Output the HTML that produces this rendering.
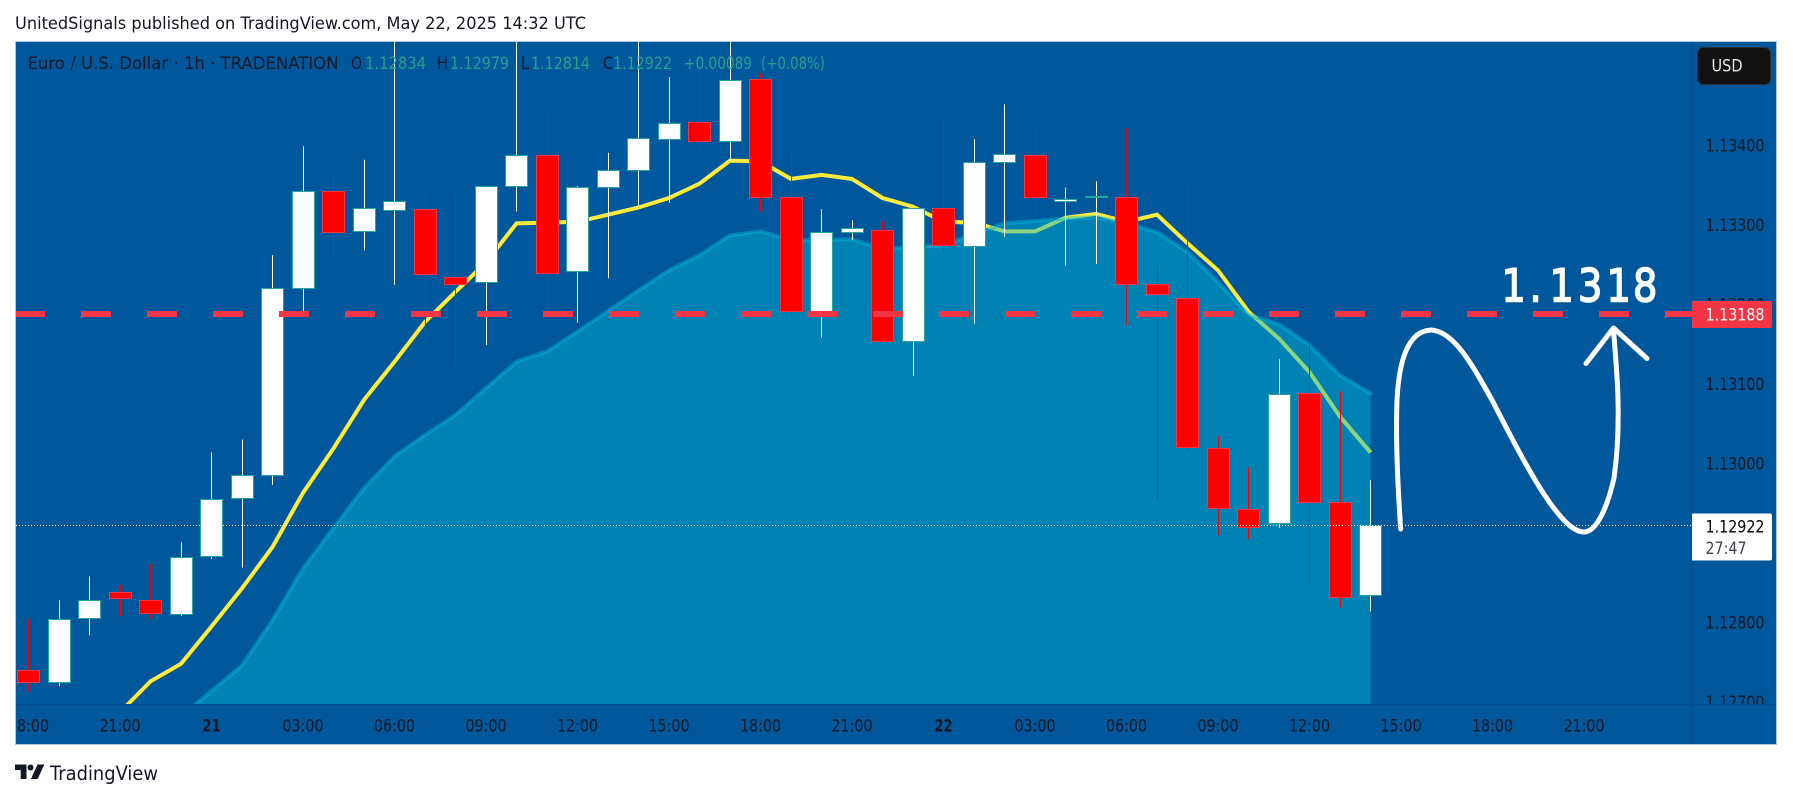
<!DOCTYPE html>
<html lang="en">
<head>
<meta charset="utf-8">
<title>EUR/USD 1h chart</title>
<style>
html,body{margin:0;padding:0;background:#fff;width:1793px;height:799px;overflow:hidden}
svg{display:block}
text{font-family:"DejaVu Sans","Liberation Sans",sans-serif}
</style>
</head>
<body>
<svg id="chart" xmlns="http://www.w3.org/2000/svg" width="1793" height="799" viewBox="0 0 1793 799">
  <defs>
    <clipPath id="plot-clip"><rect x="16" y="42" width="1676" height="662"/></clipPath>
    <clipPath id="axis-clip"><rect x="1693" y="42" width="83" height="662"/></clipPath>
    <clipPath id="time-clip"><rect x="16" y="705" width="1676" height="39"/></clipPath>
  </defs>
  <text x="15" y="29" font-size="16.5" fill="#131722" textLength="571" lengthAdjust="spacingAndGlyphs">UnitedSignals published on TradingView.com, May 22, 2025 14:32 UTC</text>
  <rect x="15.5" y="41.5" width="1761" height="703" fill="#00579c" stroke="#b4c6da" stroke-width="1"/>
  <line x1="1692.5" y1="42" x2="1692.5" y2="744" stroke="#054e8c" stroke-width="1"/>
  <line x1="16" y1="704.5" x2="1776" y2="704.5" stroke="#054e8c" stroke-width="1"/>
  <g id="plot" clip-path="url(#plot-clip)"></g>
  <g id="price-axis" clip-path="url(#axis-clip)"></g>
  <g id="time-axis" clip-path="url(#time-clip)"></g>

  <g font-size="16.5">
    <text x="27.5" y="69" fill="#131722" textLength="311" lengthAdjust="spacingAndGlyphs">Euro / U.S. Dollar · 1h · TRADENATION</text>
    <text x="351" y="69" fill="#131722" textLength="11" lengthAdjust="spacingAndGlyphs">O</text>
    <text x="365" y="69" fill="#26a08f" textLength="61" lengthAdjust="spacingAndGlyphs">1.12834</text>
    <text x="437" y="69" fill="#131722" textLength="11" lengthAdjust="spacingAndGlyphs">H</text>
    <text x="450" y="69" fill="#26a08f" textLength="59" lengthAdjust="spacingAndGlyphs">1.12979</text>
    <text x="521" y="69" fill="#131722" textLength="8" lengthAdjust="spacingAndGlyphs">L</text>
    <text x="531" y="69" fill="#26a08f" textLength="59" lengthAdjust="spacingAndGlyphs">1.12814</text>
    <text x="603" y="69" fill="#131722" textLength="10" lengthAdjust="spacingAndGlyphs">C</text>
    <text x="613" y="69" fill="#26a08f" textLength="59" lengthAdjust="spacingAndGlyphs">1.12922</text>
    <text x="684" y="69" fill="#26a08f" textLength="68" lengthAdjust="spacingAndGlyphs">+0.00089</text>
    <text x="761" y="69" fill="#26a08f" textLength="64" lengthAdjust="spacingAndGlyphs">(+0.08%)</text>
  </g>

  <g fill="none" stroke="#ffffff" stroke-width="5" stroke-linecap="round" stroke-linejoin="round">
    <path d="M1400.7 529 C1398 490 1395.5 440 1397 400 C1399 360 1408 331 1431 330 C1455 331 1475 370 1492 400 C1510 435 1532 478 1550 503 C1563 521 1574 532 1584 532 C1597 532 1608 505 1614 478 C1618 450 1618.5 420 1618 400 C1617.5 375 1615 350 1613.5 330"/>
    <path d="M1586 363.5 L1613.5 328 L1647 358.5"/>
  </g>
  <text transform="scale(0.85 1)" x="1766.5 1799.4 1823 1856.5 1890 1921.2" y="301.5" font-size="45" fill="#ffffff" stroke="#ffffff" stroke-width="1.6">1.1318</text>

  <g>
    <path d="M1692 301H1770a2 2 0 0 1 2 2V326a2 2 0 0 1 -2 2H1692z" fill="#f23645"/>
    <text x="1705.5" y="320.5" font-size="16.5" fill="#ffffff" textLength="59" lengthAdjust="spacingAndGlyphs">1.13188</text>
  </g>
  <g>
    <path d="M1692 513.5H1770a2 2 0 0 1 2 2V558.5a2 2 0 0 1 -2 2H1692z" fill="#ffffff"/>
    <text x="1705.5" y="532.5" font-size="16.5" fill="#000000" textLength="59" lengthAdjust="spacingAndGlyphs">1.12922</text>
    <text x="1705.5" y="554" font-size="16.5" fill="#40434d" textLength="41" lengthAdjust="spacingAndGlyphs">27:47</text>
  </g>
  <g>
    <rect x="1697.5" y="47.5" width="73" height="37" rx="6" fill="#111111" stroke="#2e2e2e"/>
    <text x="1711.5" y="71.5" font-size="16.5" fill="#e6e6e6" textLength="31" lengthAdjust="spacingAndGlyphs">USD</text>
  </g>

  <g>
    <path d="M15 764.5h11.5v14.5h-5.8v-9h-5.7z" fill="#131722"/>
    <circle cx="30.5" cy="767.5" r="3" fill="#131722"/>
    <path d="M37.5 764.5h6.8l-6.6 14.5h-6.8z" fill="#131722"/>
    <text x="50" y="780" font-size="19.5" fill="#131722" textLength="108" lengthAdjust="spacingAndGlyphs">TradingView</text>
  </g>
</svg>

<script>
const openPrices = [1.12740,1.12724,1.12805,1.12838,1.12828,1.12810,1.12883,1.12956,1.12985,1.13220,1.13342,1.13292,1.13318,1.13320,1.13234,1.13228,1.13349,1.13388,1.13241,1.13347,1.13369,1.13408,1.13429,1.13405,1.13483,1.13334,1.13189,1.13290,1.13293,1.13154,1.13321,1.13273,1.13378,1.13387,1.13329,1.13334,1.13335,1.13225,1.13208,1.13019,1.12942,1.12925,1.13088,1.12951,1.12834];
const highPrices = [1.12804,1.12828,1.12858,1.12847,1.12874,1.12901,1.13014,1.13030,1.13262,1.13399,1.13369,1.13382,1.13550,1.13344,1.13340,1.13348,1.13550,1.13447,1.13349,1.13391,1.13550,1.13486,1.13523,1.13550,1.13491,1.13394,1.13320,1.13306,1.13305,1.13325,1.13437,1.13408,1.13452,1.13423,1.13347,1.13355,1.13422,1.13249,1.13349,1.13035,1.12995,1.13131,1.13152,1.13091,1.12979];
const lowPrices = [1.12713,1.12720,1.12784,1.12808,1.12804,1.12808,1.12880,1.12869,1.12973,1.13192,1.13259,1.13268,1.13225,1.13144,1.13124,1.13149,1.13317,1.13190,1.13177,1.13233,1.13325,1.13328,1.13392,1.13381,1.13317,1.13185,1.13158,1.13281,1.13154,1.13110,1.13264,1.13176,1.13285,1.13309,1.13249,1.13251,1.13174,1.12954,1.13015,1.12910,1.12905,1.12919,1.12849,1.12819,1.12814];
const closePrices = [1.12724,1.12804,1.12828,1.12830,1.12811,1.12882,1.12955,1.12985,1.13220,1.13342,1.13291,1.13321,1.13329,1.13238,1.13225,1.13348,1.13387,1.13239,1.13347,1.13369,1.13409,1.13428,1.13405,1.13482,1.13334,1.13191,1.13290,1.13295,1.13154,1.13321,1.13274,1.13378,1.13389,1.13334,1.13332,1.13336,1.13225,1.13212,1.13020,1.12944,1.12920,1.13087,1.12951,1.12832,1.12922];
// null = the average sits below the visible plot for that bar
const fastAverage = [null,null,null,1.12687,1.12726,1.12748,1.12795,1.12843,1.12895,1.12963,1.13019,1.13080,1.13128,1.13178,1.13216,1.13253,1.13302,1.13303,1.13304,1.13313,1.13322,1.13334,1.13352,1.13381,1.13380,1.13358,1.13363,1.13358,1.13334,1.13323,1.13304,1.13303,1.13292,1.13292,1.13309,1.13314,1.13304,1.13313,1.13277,1.13243,1.13191,1.13157,1.13115,1.13059,1.13014];
const slowAverage = [null,null,null,null,null,1.12682,1.12714,1.12746,1.12803,1.12868,1.12919,1.12969,1.13009,1.13036,1.13061,1.13095,1.13128,1.13141,1.13166,1.13192,1.13218,1.13243,1.13262,1.13287,1.13292,1.13281,1.13281,1.13282,1.13269,1.13273,1.13274,1.13289,1.13302,1.13305,1.13308,1.13310,1.13302,1.13291,1.13266,1.13228,1.13187,1.13175,1.13149,1.13111,1.13088];
const priceTicks = [1.134,1.133,1.132,1.131,1.13,1.129,1.128,1.127];
const priceTickLabels = ["1.13400","1.13300","1.13200","1.13100","1.13000","","1.12800","1.12700"];
const timeTickLabels = ["18:00","21:00","21","03:00","06:00","09:00","12:00","15:00","18:00","21:00","22","03:00","06:00","09:00","12:00","15:00","18:00","21:00"];
const timeTickStep = 3;
const targetPrice = 1.13188;
const lastPrice = 1.12922;

const SVG_NS = "http://www.w3.org/2000/svg";
const X0 = 28.5, BAR = 30.5, REF_PRICE = 1.134, REF_Y = 145.5, PX_PER_PRICE = 79500;
function xScale(i){ return X0 + BAR * i; }
function yScale(p){ return REF_Y + (REF_PRICE - p) * PX_PER_PRICE; }
function crisp(v){ return Math.floor(v) + 0.5; }
function make(tag, attrs, parent){
  const el = document.createElementNS(SVG_NS, tag);
  for (const k in attrs) el.setAttribute(k, attrs[k]);
  parent.appendChild(el);
  return el;
}
const plot = document.getElementById("plot");
const priceAxis = document.getElementById("price-axis");
const timeAxis = document.getElementById("time-axis");

function linePoints(values){
  const pts = [];
  values.forEach((v, i) => { if (v !== null) pts.push(xScale(i).toFixed(1) + "," + yScale(v).toFixed(1)); });
  return pts.join(" ");
}

// fast moving average, drawn beneath the translucent area
const fastLine = make("polyline", {points: linePoints(fastAverage), fill: "none", stroke: "#ffeb3b", "stroke-width": 4, "stroke-linejoin": "miter"}, plot);



// slow moving average area
const lastIndex = slowAverage.length - 1;
const firstIndex = slowAverage.findIndex(v => v !== null);
const areaPoints = linePoints(slowAverage) + " " + xScale(lastIndex).toFixed(1) + ",704 " + xScale(firstIndex).toFixed(1) + ",704";
const area = make("polygon", {points: areaPoints, fill: "rgba(0,185,213,0.45)"}, plot);


const slowLine = make("polyline", {points: linePoints(slowAverage), fill: "none", stroke: "rgba(0,185,213,0.45)", "stroke-width": 4, "stroke-linecap": "round", "stroke-linejoin": "round"}, plot);



// candles
openPrices.forEach((o, i) => {
  const c = closePrices[i], up = c >= o, cx = crisp(xScale(i));
  const wick = make("line", {x1: cx, x2: cx, y1: yScale(highPrices[i]).toFixed(1), y2: yScale(lowPrices[i]).toFixed(1), stroke: up ? "#ffffff" : "#ff0000", "stroke-width": 1}, plot);
  
  
  const top = crisp(yScale(Math.max(o, c))), bottom = crisp(yScale(Math.min(o, c)));
  const body = make("rect", {x: cx - 11, y: top, width: 22, height: Math.max(bottom - top, 1), fill: up ? "#ffffff" : "#ff0000", stroke: up ? "#26a69a" : "#f23645", "stroke-width": 1}, plot);
  
  
});

// last price dotted line
const lastLine = make("line", {x1: 16, x2: 1692, y1: crisp(yScale(lastPrice)), y2: crisp(yScale(lastPrice)), stroke: "#ffffff", "stroke-width": 1, "stroke-dasharray": "1 2"}, plot);



// target horizontal dashed line
const targetLine = make("line", {x1: 15, x2: 1692, y1: yScale(targetPrice).toFixed(1), y2: yScale(targetPrice).toFixed(1), stroke: "#f23645", "stroke-width": 6, "stroke-dasharray": "30 36"}, plot);



// price axis ticks
priceTicks.forEach((p, i) => {
  if (!priceTickLabels[i]) return;
  const t = make("text", {x: 1705.5, y: (yScale(p) + 6).toFixed(1), "font-size": 16.5, fill: "#131722", textLength: 59, lengthAdjust: "spacingAndGlyphs"}, priceAxis);
  t.textContent = priceTickLabels[i];
  
  
});

// time axis ticks
timeTickLabels.forEach((label, i) => {
  const major = label.length === 2;
  const t = make("text", {x: xScale(i * timeTickStep).toFixed(1), y: 731.7, "font-size": 16.5, "text-anchor": "middle", fill: "#131722", "font-weight": major ? 700 : 400, textLength: major ? 18 : 41, lengthAdjust: "spacingAndGlyphs"}, timeAxis);
  t.textContent = label;
  
  
});
</script>
</body>
</html>
